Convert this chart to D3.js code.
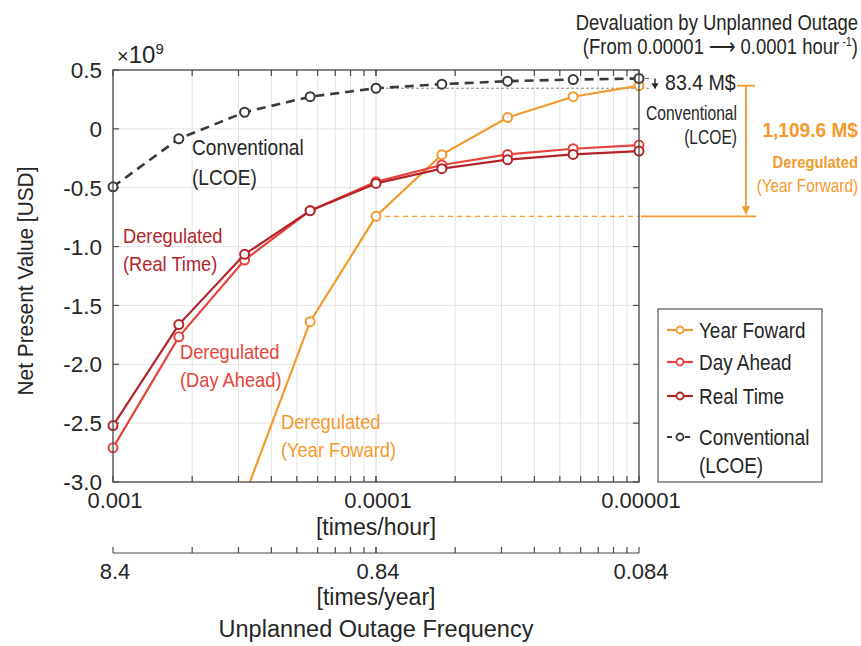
<!DOCTYPE html>
<html>
<head>
<meta charset="utf-8">
<script src="https://cdn.jsdelivr.net/npm/d3@7"></script>
<style>
  body { margin: 0; background: #fff; }
  svg { font-family: "Liberation Sans", Arial, sans-serif; }
</style>
</head>
<body>
<svg id="chart"></svg>
<script>
// outage frequency [times/hour], 1/4 decade steps
const frequency = [0.001, 0.000562, 0.000316, 0.000178, 0.0001, 0.0000562, 0.0000316, 0.0000178, 0.00001];

// net present value, x 1e9 USD
const yearForward = [null, null, -3.12, -1.638, -0.743, -0.219, 0.096, 0.273, 0.3666];
const dayAhead = [-2.710, -1.767, -1.114, -0.695, -0.450, -0.307, -0.217, -0.169, -0.138];
const realTime = [-2.521, -1.663, -1.066, -0.695, -0.464, -0.338, -0.262, -0.217, -0.189];
const conventional = [-0.492, -0.084, 0.141, 0.273, 0.345, 0.380, 0.405, 0.419, 0.4284];

const yTicks = [0.5, 0, -0.5, -1.0, -1.5, -2.0, -2.5, -3.0];
const hourTicks = [0.001, 0.0001, 0.00001];
const hourLabels = ['0.001', '0.0001', '0.00001'];
const yearLabels = ['8.4', '0.84', '0.084'];

const config = {
  width: 861, height: 646,
  margin: {top: 70, left: 113},
  plotWidth: 526, plotHeight: 412
};

const colors = {
  yearForward: '#f39a2e',
  dayAhead: '#e5433b',
  realTime: '#b3242a',
  conventional: '#3a3a3a',
  text: '#262626',
  axis: '#4a4a4a',
  grid: '#e4e4e4'
};

const svg = d3.select('#chart')
    .attr('width', config.width)
    .attr('height', config.height);

const chart = svg.append('g')
    .attr('transform', `translate(${config.margin.left},${config.margin.top})`);

const W = config.plotWidth, H = config.plotHeight;

// scales
const xScale = d3.scaleLog()
    .domain([0.001, 0.00001])
    .range([0, W]);

const yScale = d3.scaleLinear()
    .domain([-3, 0.5])
    .range([H, 0]);

// minor ticks sit at 1/(k * 10^m) hours -> evenly spaced in period
const minorTicks = [];
[1000, 10000].forEach(base => {
  for (let k = 1; k <= 10; k++) minorTicks.push(1 / (k * base));
});

// text helper: the figure's lettering is a bit condensed, so squeeze horizontally
function addText(parent, o) {
  const g = parent.append('g')
      .attr('transform', `translate(${o.x},${o.y}) scale(${o.sx || 1},1)`);
  const t = g.append('text')
      .attr('font-size', o.size)
      .attr('font-weight', o.weight || null)
      .attr('text-anchor', o.anchor || 'start')
      .attr('fill', o.color || colors.text);
  o.lines.forEach((l, i) => {
    t.append('tspan').attr('x', 0).attr('y', i * (o.step || 0)).text(l);
  });
  return t;
}

// gridlines
chart.append('g')
  .selectAll('line')
  .data(minorTicks)
  .join('line')
    .attr('x1', d => xScale(d)).attr('x2', d => xScale(d))
    .attr('y1', 0).attr('y2', H)
    .attr('stroke', colors.grid)
    .attr('stroke-width', 1);

chart.append('g')
  .selectAll('line')
  .data(yTicks)
  .join('line')
    .attr('x1', 0).attr('x2', W)
    .attr('y1', d => yScale(d)).attr('y2', d => yScale(d))
    .attr('stroke', colors.grid)
    .attr('stroke-width', 1);

// inward ticks on all four sides
const tickG = chart.append('g').attr('stroke', colors.axis).attr('stroke-width', 1.2);
minorTicks.forEach(d => {
  tickG.append('line').attr('x1', xScale(d)).attr('x2', xScale(d)).attr('y1', H).attr('y2', H - 6);
  tickG.append('line').attr('x1', xScale(d)).attr('x2', xScale(d)).attr('y1', 0).attr('y2', 6);
});
yTicks.forEach(d => {
  tickG.append('line').attr('x1', 0).attr('x2', 6).attr('y1', yScale(d)).attr('y2', yScale(d));
  tickG.append('line').attr('x1', W).attr('x2', W - 6).attr('y1', yScale(d)).attr('y2', yScale(d));
});

// y tick labels
chart.append('g')
  .selectAll('text')
  .data(yTicks)
  .join('text')
    .attr('x', -11)
    .attr('y', d => yScale(d))
    .attr('dy', '0.36em')
    .attr('text-anchor', 'end')
    .attr('font-size', 22.5)
    .attr('fill', colors.text)
    .text(d => d === 0 ? '0' : d.toFixed(1));

// x10^9 multiplier
const mult = svg.append('text')
    .attr('x', 117).attr('y', 63)
    .attr('fill', colors.text);
mult.append('tspan').attr('font-size', 20).text('\u00d7');
mult.append('tspan').attr('font-size', 24).text('10');
mult.append('tspan').attr('font-size', 15).attr('dy', -9).text('9');

// x tick labels [times/hour]
chart.append('g')
  .selectAll('text')
  .data(hourTicks)
  .join('text')
    .attr('x', d => xScale(d) + 2)
    .attr('y', 508 - config.margin.top)
    .attr('text-anchor', 'middle')
    .attr('font-size', 22)
    .attr('fill', colors.text)
    .text((d, i) => hourLabels[i]);

chart.append('text')
    .attr('x', W / 2).attr('y', 535 - config.margin.top)
    .attr('text-anchor', 'middle')
    .attr('font-size', 23)
    .attr('fill', colors.text)
    .text('[times/hour]');

// second axis [times/year]
const axis2Y = 553 - config.margin.top;
const axis2 = chart.append('g').attr('stroke', colors.axis).attr('stroke-width', 1.2);
axis2.append('line').attr('x1', 0).attr('x2', W).attr('y1', axis2Y).attr('y2', axis2Y);
minorTicks.forEach(d => {
  axis2.append('line').attr('x1', xScale(d)).attr('x2', xScale(d)).attr('y1', axis2Y).attr('y2', axis2Y - 6);
});

chart.append('g')
  .selectAll('text')
  .data(hourTicks)
  .join('text')
    .attr('x', d => xScale(d) + 2)
    .attr('y', 578.5 - config.margin.top)
    .attr('text-anchor', 'middle')
    .attr('font-size', 22)
    .attr('fill', colors.text)
    .text((d, i) => yearLabels[i]);

chart.append('text')
    .attr('x', W / 2).attr('y', 605 - config.margin.top)
    .attr('text-anchor', 'middle')
    .attr('font-size', 23)
    .attr('fill', colors.text)
    .text('[times/year]');

chart.append('text')
    .attr('x', W / 2).attr('y', 637 - config.margin.top)
    .attr('text-anchor', 'middle')
    .attr('font-size', 23.5)
    .attr('fill', colors.text)
    .text('Unplanned Outage Frequency');

// y axis title
svg.append('text')
    .attr('transform', 'translate(33,281) rotate(-90) scale(0.97,1)')
    .attr('text-anchor', 'middle')
    .attr('font-size', 21.5)
    .attr('fill', colors.text)
    .text('Net Present Value [USD]');

// reference lines for the devaluation annotations
const y0001 = yScale(conventional[4]);
const y00001 = yScale(conventional[8]);
chart.append('line')
    .attr('x1', xScale(0.0001)).attr('x2', W + 10)
    .attr('y1', y0001).attr('y2', y0001)
    .attr('stroke', '#888').attr('stroke-width', 1)
    .attr('stroke-dasharray', '3,2');
chart.append('line')
    .attr('x1', W).attr('x2', W + 10)
    .attr('y1', y00001).attr('y2', y00001)
    .attr('stroke', '#555').attr('stroke-width', 1)
    .attr('stroke-dasharray', '4,2');

const yfLow = yScale(yearForward[4]);
const yfHigh = yScale(yearForward[8]);
chart.append('line')
    .attr('x1', xScale(0.0001)).attr('x2', W)
    .attr('y1', yfLow).attr('y2', yfLow)
    .attr('stroke', colors.yearForward).attr('stroke-width', 1.3)
    .attr('stroke-dasharray', '5,4');

// clip the series to the plot box
svg.append('defs').append('clipPath').attr('id', 'plot-clip')
  .append('rect').attr('x', -6).attr('y', -6).attr('width', W + 12).attr('height', H + 6);

const seriesG = chart.append('g').attr('clip-path', 'url(#plot-clip)');

const series = [
  {name: 'yearForward', values: yearForward, color: colors.yearForward, dash: null},
  {name: 'dayAhead', values: dayAhead, color: colors.dayAhead, dash: null},
  {name: 'realTime', values: realTime, color: colors.realTime, dash: null},
  {name: 'conventional', values: conventional, color: colors.conventional, dash: '9,6'}
];

const line = d3.line()
    .defined(d => d.v !== null)
    .x(d => xScale(d.f))
    .y(d => yScale(d.v));

series.forEach(s => {
  const pts = frequency.map((f, i) => ({f: f, v: s.values[i]}));
  seriesG.append('path')
      .datum(pts)
      .attr('fill', 'none')
      .attr('stroke', s.color)
      .attr('stroke-width', s.dash ? 2.6 : 2.2)
      .attr('stroke-dasharray', s.dash)
      .attr('d', line);

  seriesG.selectAll('.pt-' + s.name)
    .data(pts.filter(d => d.v !== null))
    .join('circle')
      .attr('class', 'pt-' + s.name)
      .attr('cx', d => xScale(d.f))
      .attr('cy', d => yScale(d.v))
      .attr('r', 4.5)
      .attr('fill', '#fff')
      .attr('stroke', s.color)
      .attr('stroke-width', 2);
});

// plot box
chart.append('rect')
    .attr('width', W).attr('height', H)
    .attr('fill', 'none')
    .attr('stroke', colors.axis)
    .attr('stroke-width', 1.3);

// in-plot labels
addText(svg, {lines: ['Conventional', '(LCOE)'], x: 192, y: 155, step: 30, size: 22, sx: 0.87});
addText(svg, {lines: ['Deregulated', '(Real Time)'], x: 123, y: 242.5, step: 28.5, size: 21, sx: 0.87, color: colors.realTime});
addText(svg, {lines: ['Deregulated', '(Day Ahead)'], x: 180, y: 358.5, step: 28.5, size: 21, sx: 0.87, color: colors.dayAhead});
addText(svg, {lines: ['Deregulated', '(Year Foward)'], x: 281, y: 429, step: 28, size: 21, sx: 0.87, color: colors.yearForward});

// top right annotation
addText(svg, {lines: ['Devaluation by Unplanned Outage'], x: 858, y: 29.5, size: 22, sx: 0.84, anchor: 'end'});

const fromT = addText(svg, {lines: [], x: 858, y: 54, size: 22, sx: 0.84, anchor: 'end'});
fromT.append('tspan').attr('x', 0).attr('y', 0).text('(From 0.00001 \u27f6 0.0001 hour');
fromT.append('tspan').attr('dy', -8).attr('font-size', 13).text(' -1');
fromT.append('tspan').attr('dy', 8).text(')');

// 83.4 M$ arrow
const ax = config.margin.left + W + 16;
svg.append('line')
    .attr('x1', ax).attr('x2', ax)
    .attr('y1', config.margin.top + y00001)
    .attr('y2', config.margin.top + y0001 - 3)
    .attr('stroke', colors.text).attr('stroke-width', 1.4);
svg.append('path')
    .attr('d', `M${ax - 3.5},${config.margin.top + y0001 - 5} L${ax + 3.5},${config.margin.top + y0001 - 5} L${ax},${config.margin.top + y0001 + 1} Z`)
    .attr('fill', colors.text);
addText(svg, {lines: ['83.4 M$'], x: 665, y: 90, size: 22, sx: 0.89});

addText(svg, {lines: ['Conventional', '(LCOE)'], x: 737, y: 120, step: 24, size: 20, sx: 0.78, anchor: 'end'});

// 1,109.6 M$ bracket
const bx = 746;
const byTop = config.margin.top + yfHigh;
const byLow = config.margin.top + yfLow;
const bracket = svg.append('g').attr('stroke', colors.yearForward).attr('stroke-width', 1.8);
bracket.append('line').attr('x1', bx - 9).attr('x2', bx + 9).attr('y1', byTop).attr('y2', byTop);
bracket.append('line').attr('x1', bx).attr('x2', bx).attr('y1', byTop).attr('y2', byLow - 8);
bracket.append('line')
    .attr('x1', config.margin.left + W + 2).attr('x2', bx + 10)
    .attr('y1', byLow).attr('y2', byLow);
svg.append('path')
    .attr('d', `M${bx - 4},${byLow - 10} L${bx + 4},${byLow - 10} L${bx},${byLow - 1} Z`)
    .attr('fill', colors.yearForward);

addText(svg, {lines: ['1,109.6 M$'], x: 858, y: 137, size: 21, sx: 0.91, anchor: 'end', weight: 'bold', color: colors.yearForward});
addText(svg, {lines: ['Deregulated'], x: 858, y: 168, size: 17, sx: 0.87, anchor: 'end', weight: 'bold', color: colors.yearForward});
addText(svg, {lines: ['(Year Forward)'], x: 858, y: 192, size: 18, sx: 0.85, anchor: 'end', color: colors.yearForward});

// legend
const legend = svg.append('g').attr('transform', 'translate(658,309)');
legend.append('rect')
    .attr('width', 164).attr('height', 173)
    .attr('fill', '#fff')
    .attr('stroke', '#555')
    .attr('stroke-width', 1.2);

const legendItems = [
  {text: ['Year Foward'], color: colors.yearForward, dash: null, y: 21},
  {text: ['Day Ahead'], color: colors.dayAhead, dash: null, y: 53},
  {text: ['Real Time'], color: colors.realTime, dash: null, y: 87},
  {text: ['Conventional', '(LCOE)'], color: colors.conventional, dash: '5,4', y: 128}
];

legendItems.forEach(item => {
  const g = legend.append('g').attr('transform', `translate(0,${item.y})`);
  g.append('line')
      .attr('x1', 9).attr('x2', 35)
      .attr('stroke', item.color)
      .attr('stroke-width', 2.2)
      .attr('stroke-dasharray', item.dash);
  g.append('circle')
      .attr('cx', 22).attr('r', 3.5)
      .attr('fill', '#fff')
      .attr('stroke', item.color)
      .attr('stroke-width', 1.8);
  addText(g, {lines: item.text, x: 41, y: 8, step: 28, size: 22, sx: 0.86});
});
</script>
</body>
</html>
